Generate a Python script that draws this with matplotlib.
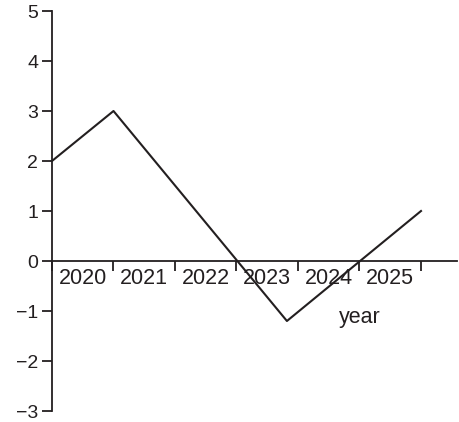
import numpy as np
import matplotlib.pyplot as plt
from matplotlib.ticker import FixedLocator, FixedFormatter

plt.rcParams['font.family'] = ['Liberation Sans', 'DejaVu Sans']

years = ['2020', '2021', '2022', '2023', '2024', '2025']
line_x = [0.0, 1.0, 3.82, 6.0]
line_y = [2.0, 3.0, -1.2, 1.0]
y_ticks = [-3, -2, -1, 0, 1, 2, 3, 4, 5]

fig = plt.figure(figsize=(4.6, 4.22), dpi=100)
ax = fig.add_axes([52 / 460, 11 / 422, 405 / 460, 400 / 422])

ax.plot(line_x, line_y, color='#231f20', lw=1.5, clip_on=False)

ax.set_xlim(0, 405 / 61.5)
ax.set_ylim(-3, 5)

ax.spines['top'].set_visible(False)
ax.spines['right'].set_visible(False)
ax.spines['bottom'].set_position(('data', 0))
for s in ('left', 'bottom'):
    ax.spines[s].set_linewidth(1.3)
    ax.spines[s].set_color('#231f20')

ax.set_yticks(y_ticks)
ax.set_yticklabels([str(v).replace('-', '\u2212') for v in y_ticks])
ax.tick_params(axis='y', direction='out', length=7, width=1.3, color='#231f20',
               labelsize=14, pad=3, labelcolor='#231f20')

ax.xaxis.set_major_locator(FixedLocator(np.arange(0, len(years) + 1)))
ax.xaxis.set_major_formatter(FixedFormatter([''] * (len(years) + 1)))
ax.xaxis.set_minor_locator(FixedLocator(np.arange(len(years)) + 0.5))
ax.xaxis.set_minor_formatter(FixedFormatter(years))
ax.tick_params(axis='x', which='major', direction='out', length=7, width=1.3, color='#231f20')
ax.tick_params(axis='x', which='minor', length=0, labelsize=15.5, pad=5, labelcolor='#231f20')

ax.text(5.0, -1.14, 'year', ha='center', va='center', fontsize=15.5, color='#231f20')

fig.savefig('out.png', dpi=100)
